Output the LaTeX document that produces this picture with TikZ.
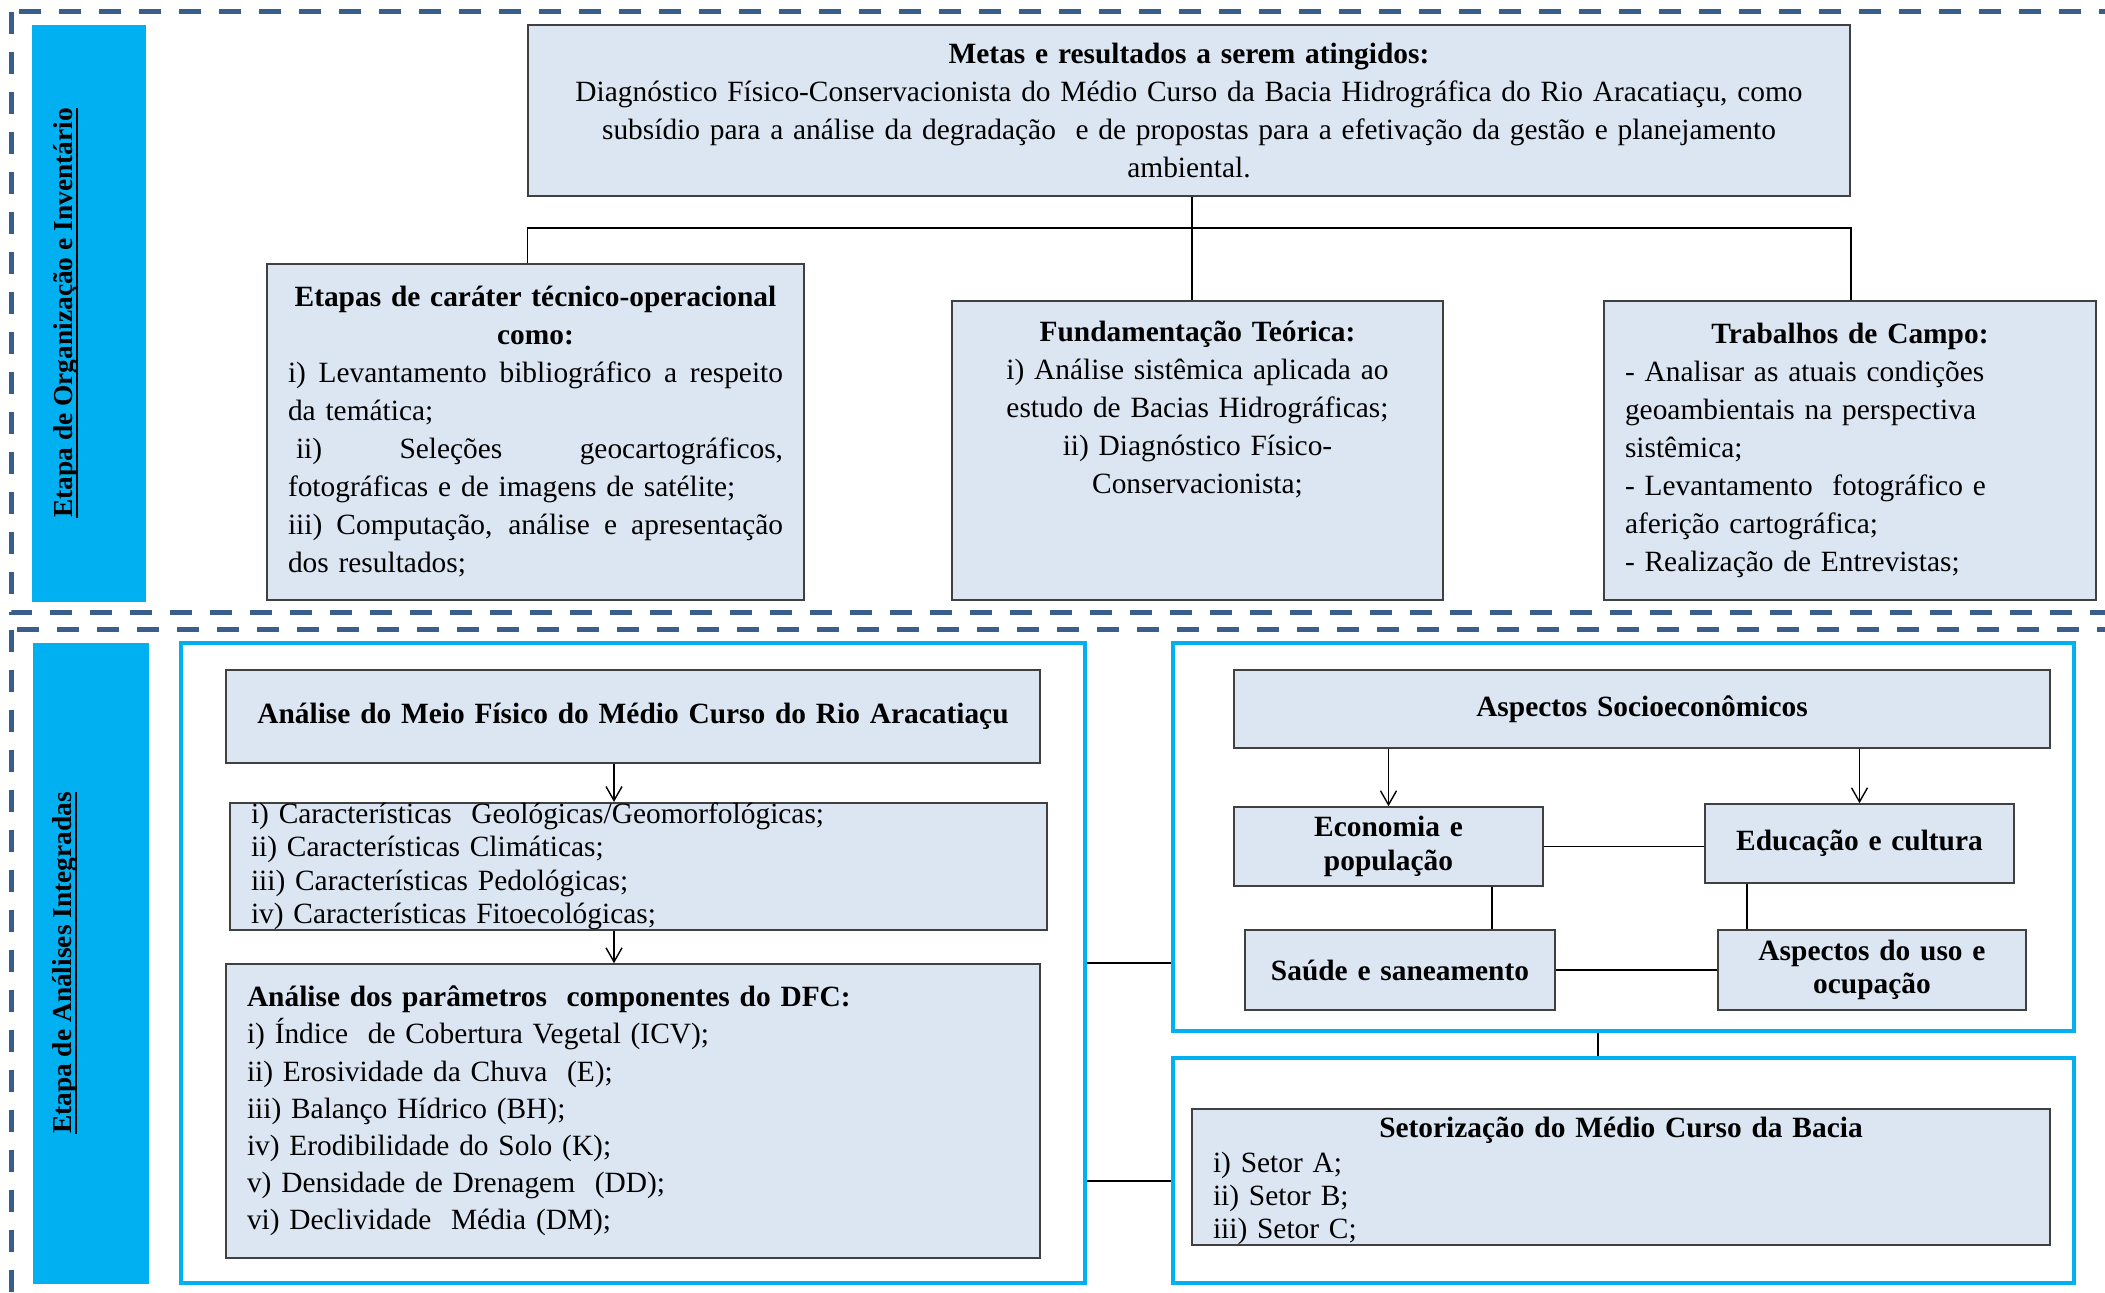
\documentclass[tikz,border=0pt]{standalone}
\usepackage{fontspec}
\setmainfont{Liberation Serif}
\usetikzlibrary{arrows.meta}
\definecolor{boxfill}{HTML}{DCE6F2}
\definecolor{boxline}{HTML}{404040}
\definecolor{barcyan}{HTML}{00B0F0}
\definecolor{dashblue}{HTML}{3A5E8C}
\newcommand{\lline}[1]{\makebox[\linewidth][l]{#1}}
\newcommand{\jline}[1]{\makebox[\linewidth][s]{\spaceskip=0.25em plus 1em\relax#1}}
\newcommand{\ulabel}[1]{\setbox0\hbox{#1}\rlap{\rule[-2.6pt]{\wd0}{0.9pt}}\box0}

\begin{document}
\begin{tikzpicture}[x=0.5pt,y=-0.5pt,
  bx/.style={draw=boxline,line width=0.8pt,fill=boxfill,inner xsep=10.5pt,inner ysep=0pt,
    align=center,font=\fontsize{14.7}{19}\selectfont},
  bbx/.style={bx,font=\fontsize{14.7}{16.75}\selectfont\bfseries},
  bar/.style={fill=barcyan,inner sep=0pt},
  vlabel/.style={rotate=90,font=\fontsize{13.7}{16}\selectfont\bfseries},
  cyanframe/.style={draw=barcyan,line width=2.3pt,inner sep=0pt},
  dashframe/.style={draw=dashblue,line width=2.5pt,dash pattern=on 11pt off 9pt},
  link/.style={line width=0.7pt},
  arr/.style={link,-{Straight Barb[length=7pt,width=8pt]}}]
  \useasboundingbox (0,0) rectangle (2105,1293);
  \draw[dashframe] (11,12) rectangle (2125,613);
  \draw[dashframe] (11,630) rectangle (2125,1310);

  \node[bar,minimum width=57pt,minimum height=288.5pt] (bartop) at (89,313.5) {};
  \node[vlabel] (labtop) at (66,313) {\ulabel{Etapa de Organização e Inventário}};
  \node[bar,minimum width=58pt,minimum height=320.5pt] (barbot) at (91,963.5) {};
  \node[vlabel] (labbot) at (65,963) {\ulabel{Etapa de Análises Integradas}};

  \node[bx,text width=640pt,minimum height=85.5pt] (metas) at (1189,110.5)
    {\textbf{Metas e resultados a serem atingidos:}\\
     Diagnóstico Físico-Conservacionista do Médio Curso da Bacia Hidrográfica do Rio Aracatiaçu, como\\
     subsídio para a análise da degradação\ \ e de propostas para a efetivação da gestão e planejamento\\
     ambiental.};
  \node[bx,text width=247.5pt,minimum height=168pt] (etapas) at (535.5,432)
    {\textbf{Etapas de caráter técnico-operacional}\\
     \textbf{como:}\\
     \jline{i) Levantamento bibliográfico a respeito}\\
     \lline{da temática;}\\
     \jline{\hspace*{4pt}ii) Seleções geocartográficos,}\\
     \lline{fotográficas e de imagens de satélite;}\\
     \jline{iii) Computação, análise e apresentação}\\
     \lline{dos resultados;}};
  \node[bx,text width=224.5pt,minimum height=149.5pt] (fund) at (1197.5,450.5)
    {\textbf{Fundamentação Teórica:}\\
     i) Análise sistêmica aplicada ao\\
     estudo de Bacias Hidrográficas;\\
     ii) Diagnóstico Físico-\\
     Conservacionista;\\
     \strut\\
     \strut};
  \node[bx,text width=225pt,minimum height=149.5pt] (campo) at (1850,450.5)
    {\textbf{Trabalhos de Campo:}\\
     \lline{- Analisar as atuais condições}\\
     \lline{geoambientais na perspectiva}\\
     \lline{sistêmica;}\\
     \lline{- Levantamento\ \ fotográfico e}\\
     \lline{aferição cartográfica;}\\
     \lline{- Realização de Entrevistas;}};

  \coordinate (hub) at (1192,228);
  \draw[link] (metas.south -| hub) -- (hub |- fund.north);
  \draw[link] (metas.south west |- etapas.north) |- (hub) -| (metas.south east |- campo.north);

  \node[cyanframe,minimum width=452pt,minimum height=320pt] (left) at (633,963) {};
  \node[bx,text width=386pt,minimum height=46.5pt] (meio) at (633,716.5)
    {\mbox{\textbf{Análise do Meio Físico do Médio Curso do Rio Aracatiaçu}}};
  \node[bx,align=left,text width=387.5pt,minimum height=62.5pt,font=\fontsize{14.7}{16.75}\selectfont] (carac) at (638.5,866.5)
    {i) Características\ \ Geológicas/Geomorfológicas;\\
     ii) Características Climáticas;\\
     iii) Características Pedológicas;\\
     iv) Características Fitoecológicas;};
  \node[bx,align=left,text width=386pt,minimum height=147pt,font=\fontsize{14.7}{18.6}\selectfont] (param) at (633,1111)
    {\textbf{Análise dos parâmetros\ \ componentes do DFC:}\\
     i) Índice\ \ de Cobertura Vegetal (ICV);\\
     ii) Erosividade da Chuva\ \ (E);\\
     iii) Balanço Hídrico (BH);\\
     iv) Erodibilidade do Solo (K);\\
     v) Densidade de Drenagem\ \ (DD);\\
     vi) Declividade\ \ Média (DM);};
  \draw[arr] ([xshift=-9.5pt]meio.south) -- ([xshift=-9.5pt]meio.south |- carac.north);
  \draw[arr] ([xshift=-9.5pt]meio.south |- carac.south) -- ([xshift=-9.5pt]meio.south |- param.north);

  \node[cyanframe,minimum width=450.5pt,minimum height=194pt] (socframe) at (1623.5,837) {};
  \node[bx,text width=387pt,minimum height=39pt] (socio) at (1642,709) {\textbf{Aspectos Socioeconômicos}};
  \node[bbx,text width=133.5pt,minimum height=39.5pt] (econ) at (1388.5,846.5) {Economia e\\ população};
  \node[bbx,text width=133.5pt,minimum height=39.5pt] (educ) at (1859.5,843.5) {Educação e cultura};
  \node[bbx,text width=134pt,minimum height=40pt] (saude) at (1400,970) {Saúde e saneamento};
  \node[bbx,text width=133pt,minimum height=40pt] (uso) at (1872,970) {Aspectos do uso e\\ ocupação};
  \draw[arr] (econ.north |- socio.south) -- (econ.north);
  \draw[arr] (educ.north |- socio.south) -- (educ.north);
  \draw[link] (econ.east) -- (econ.east -| educ.west);
  \draw[link] ([xshift=51.75pt]econ.south) -- ([xshift=51.75pt]econ.south |- saude.north);
  \draw[link] ([xshift=-56.25pt]educ.south) -- ([xshift=-56.25pt]educ.south |- uso.north);
  \draw[link] (saude.east) -- (saude.east -| uso.west);

  \node[cyanframe,minimum width=450.5pt,minimum height=112.5pt] (setframe) at (1623.5,1170.5) {};
  \node[bx,text width=408pt,minimum height=68pt,font=\fontsize{14.7}{16.5}\selectfont] (setor) at (1621,1177)
    {\rule{0pt}{14pt}\textbf{Setorização do Médio Curso da Bacia}\\[1pt]
     \lline{i) Setor A;}\\
     \lline{ii) Setor B;}\\
     \lline{iii) Setor C;}};
  \draw[link] ([xshift=-12.75pt]socframe.south) -- ([xshift=-12.75pt]setframe.north);
  \draw[link] (left.east) -- (left.east -| socframe.west);
  \draw[link] ([yshift=-5.25pt]setframe.west -| left.east) -- ([yshift=-5.25pt]setframe.west);
\end{tikzpicture}
\end{document}
